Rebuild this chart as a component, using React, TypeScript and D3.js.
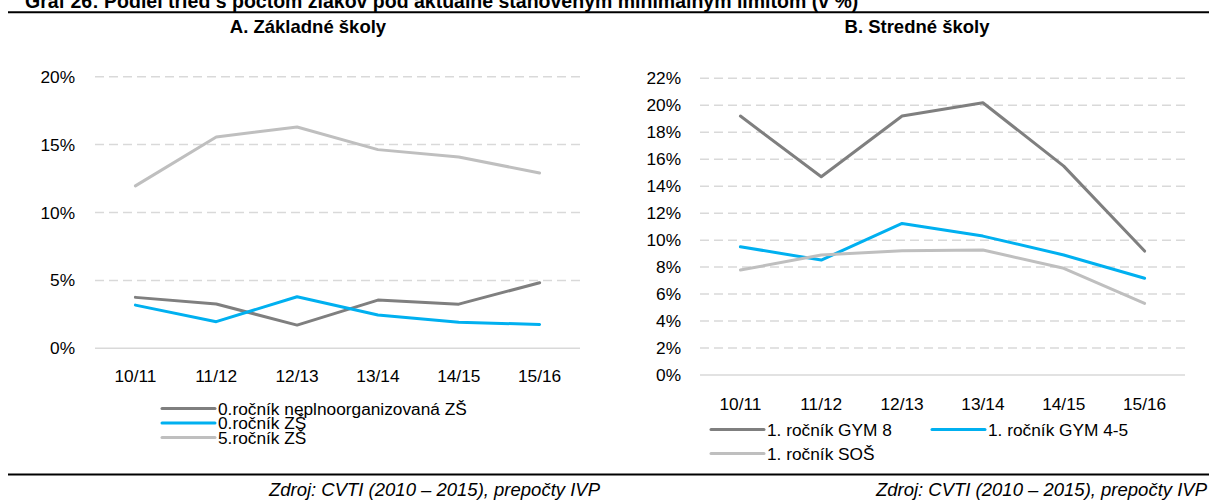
import React from 'react';
import * as d3 from 'd3';

const categories = ['10/11', '11/12', '12/13', '13/14', '14/15', '15/16'];

// A. Základné školy (%)
const zsNeplno = [3.75, 3.26, 1.71, 3.55, 3.25, 4.83];
const zs0 = [3.18, 1.96, 3.8, 2.45, 1.91, 1.76];
const zs5 = [11.96, 15.56, 16.3, 14.63, 14.09, 12.91];
const leftTicks = [0, 5, 10, 15, 20];

// B. Stredné školy (%)
const gym8 = [19.2, 14.7, 19.2, 20.19, 15.49, 9.19];
const gym45 = [9.51, 8.52, 11.24, 10.3, 8.9, 7.17];
const sos = [7.78, 8.9, 9.22, 9.27, 7.91, 5.31];
const rightTicks = [0, 2, 4, 6, 8, 10, 12, 14, 16, 18, 20, 22];

const titleText = 'Graf 26: Podiel tried s počtom žiakov pod aktuálne stanoveným minimálnym limitom (v %)';
const sourceText = 'Zdroj: CVTI (2010 – 2015), prepočty IVP';

const C_DARK = '#7f7f7f';
const C_BLUE = '#00b0f0';
const C_LIGHT = '#bfbfbf';
const GRID = '#d9d9d9';
const FONT = '"Liberation Sans", Arial, sans-serif';

type Series = { name: string; values: number[]; color: string };

function Panel(props: {
  x0: number; x1: number; y0: number; y1: number; max: number; ticks: number[];
  series: Series[]; labelX: number; tickBaseline: number;
}) {
  const { x0, x1, y0, y1, max, ticks, series, labelX, tickBaseline } = props;
  const x = d3.scalePoint<string>().domain(categories).range([x0, x1]).padding(0.5);
  const y = d3.scaleLinear().domain([0, max]).range([y0, y1]);
  const line = d3.line<number>().x((_, i) => x(categories[i]) as number).y(v => y(v));
  return (
    <g>
      {ticks.map(t => (
        <g key={t}>
          <line x1={x0} x2={x1} y1={y(t)} y2={y(t)} stroke={GRID} strokeWidth={1.5}
            strokeDasharray={t === 0 ? undefined : '9,5'} />
          <text x={labelX} y={y(t)} dy="0.35em" textAnchor="end" fontSize={17.3} fontFamily={FONT} fill="#000">
            {t}%
          </text>
        </g>
      ))}
      {categories.map(c => (
        <text key={c} x={x(c)} y={tickBaseline} textAnchor="middle" fontSize={17.3} fontFamily={FONT} fill="#000">{c}</text>
      ))}
      {series.map(s => (
        <path key={s.name} d={line(s.values) || ''} fill="none" stroke={s.color} strokeWidth={3}
          strokeLinejoin="round" strokeLinecap="round" />
      ))}
    </g>
  );
}

function LegendItem(props: { x: number; y: number; s: Series }) {
  const { x, y, s } = props;
  return (
    <g>
      <line x1={x} x2={x + 53} y1={y} y2={y} stroke={s.color} strokeWidth={3} strokeLinecap="round" />
      <text x={x + 56} y={y} dy="0.35em" fontSize={17.3} fontFamily={FONT} fill="#000">{s.name}</text>
    </g>
  );
}

export default function App() {
  const leftSeries: Series[] = [
    { name: '0.ročník neplnoorganizovaná ZŠ', values: zsNeplno, color: C_DARK },
    { name: '0.ročník ZŠ', values: zs0, color: C_BLUE },
    { name: '5.ročník ZŠ', values: zs5, color: C_LIGHT },
  ];
  const rightSeries: Series[] = [
    { name: '1. ročník GYM 8', values: gym8, color: C_DARK },
    { name: '1. ročník GYM 4-5', values: gym45, color: C_BLUE },
    { name: '1. ročník SOŠ', values: sos, color: C_LIGHT },
  ];
  return (
    <svg width={1209} height={500} style={{ position: 'absolute', left: 0, top: 0, background: '#fff' }}>
      <rect width={1209} height={500} fill="#fff" />
      <text x={25} y={8} fontSize={19.5} fontWeight="bold" fontFamily={FONT} fill="#000">{titleText}</text>
      <line x1={8} x2={1209} y1={12.3} y2={12.3} stroke="#000" strokeWidth={2} />

      <text x={308} y={33} textAnchor="middle" fontSize={18.5} fontWeight="bold" fontFamily={FONT} fill="#000">A. Základné školy</text>
      <text x={917} y={33} textAnchor="middle" fontSize={18.5} fontWeight="bold" fontFamily={FONT} fill="#000">B. Stredné školy</text>

      <Panel x0={95} x1={580} y0={348.3} y1={76.7} max={20} ticks={leftTicks} series={leftSeries}
        labelX={75} tickBaseline={382} />
      <Panel x0={700} x1={1185} y0={375} y1={78.3} max={22} ticks={rightTicks} series={rightSeries}
        labelX={681} tickBaseline={410} />

      <LegendItem x={162} y={408.5} s={leftSeries[0]} />
      <LegendItem x={162} y={423} s={leftSeries[1]} />
      <LegendItem x={162} y={437.5} s={leftSeries[2]} />

      <LegendItem x={711} y={429.5} s={rightSeries[0]} />
      <LegendItem x={932} y={429.5} s={rightSeries[1]} />
      <LegendItem x={711} y={453.5} s={rightSeries[2]} />

      <line x1={8} x2={1209} y1={474.5} y2={474.5} stroke="#000" strokeWidth={2} />
      <text x={600} y={496} textAnchor="end" fontSize={18.5} fontStyle="italic" fontFamily={FONT} fill="#000">{sourceText}</text>
      <text x={1207} y={496} textAnchor="end" fontSize={18.5} fontStyle="italic" fontFamily={FONT} fill="#000">{sourceText}</text>
    </svg>
  );
}
